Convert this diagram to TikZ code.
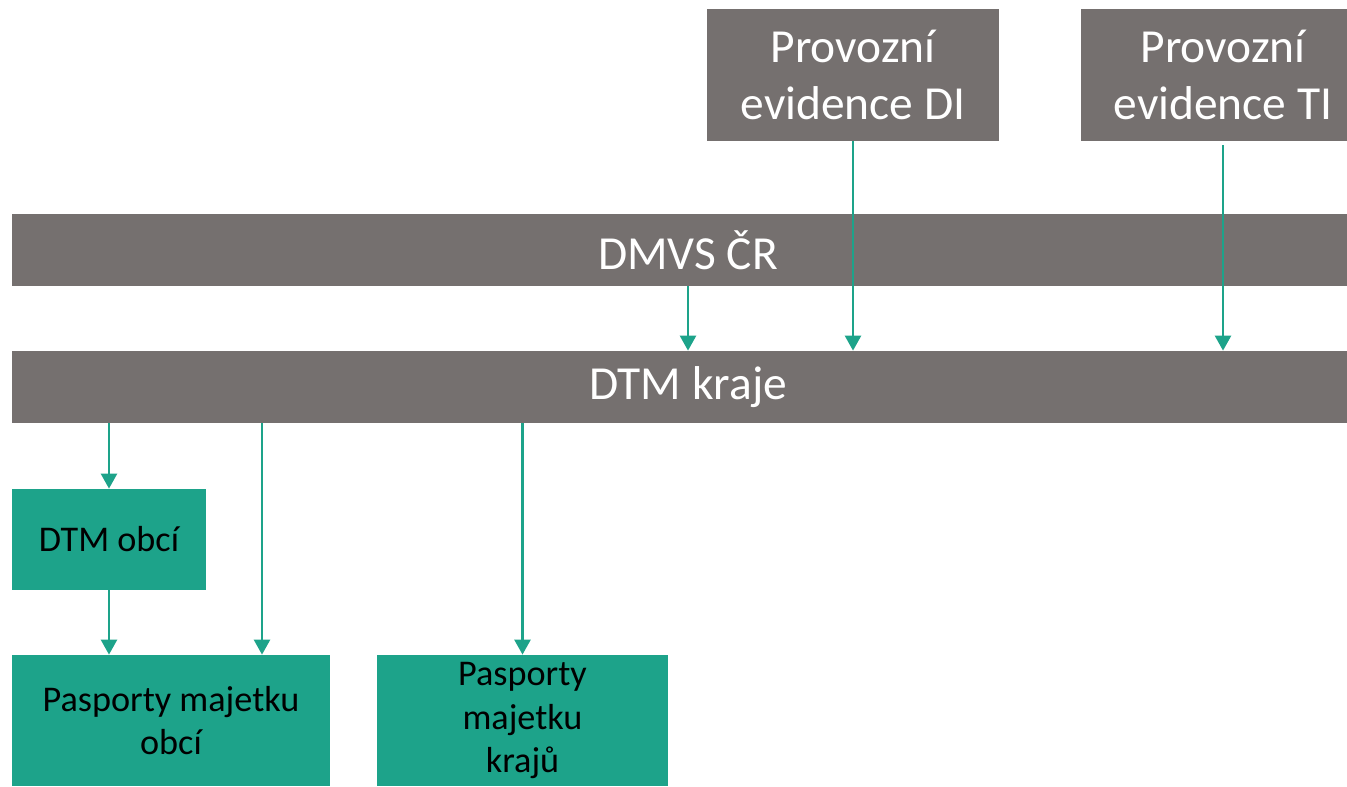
\documentclass[tikz,border=0pt]{standalone}
\usepackage{fontspec}
\setmainfont{Carlito}
\usepackage{xcolor}
\definecolor{SlateGrey}{RGB}{117,112,111}
\definecolor{SeaTeal}{RGB}{29,163,138}
\usepackage{tikz}
\usetikzlibrary{arrows.meta, positioning}

\begin{document}
\begin{tikzpicture}[
		% grey boxes (sources and layers)
		greyBox/.style={
			rectangle,
			fill=SlateGrey,
			text=white,
			align=center,
			inner sep=0pt,
			font=\fontsize{27}{32}\selectfont
		},
		% teal boxes (municipal and regional outputs)
		tealBox/.style={
			rectangle,
			fill=SeaTeal,
			text=black,
			align=center,
			inner sep=0pt,
			font=\fontsize{20.6}{24.6}\selectfont
		},
		% data flow arrows
		flow/.style={
			draw=SeaTeal,
			line width=1.6pt,
			-{Triangle[length=8.5pt, width=9pt]}
		}
		]
		
		\useasboundingbox (0,0) rectangle (26.94,15.72);
		
		% upper sources (TI box and bars run past the right edge)
		\node[greyBox, minimum width=5.84cm, minimum height=2.64cm] (di) at (17.06,14.22) {Provozní\\evidence DI};
		\node[greyBox, minimum width=5.68cm, minimum height=2.64cm] (ti) at (24.46,14.22) {Provozní\\evidence TI};
		
		% wide bars
		\node[greyBox, minimum width=27.04cm, minimum height=1.44cm] (dmvs) at (13.76,10.72) {DMVS ČR};
		\node[greyBox, minimum width=27.04cm, minimum height=1.44cm] (kraje) at (13.76,7.98) {DTM kraje};
		
		% lower boxes
		\node[tealBox, minimum width=3.88cm, minimum height=2.02cm] (obci) at (2.18,4.93) {DTM obcí};
		\node[tealBox, minimum width=6.36cm, minimum height=2.62cm] (pobci) at (3.42,1.31) {Pasporty majetku\\obcí};
		\node[tealBox, minimum width=5.82cm, minimum height=2.62cm] (pkraju) at (10.45,1.31) {Pasporty\\majetku\\krajů};
		
		% arrows into DTM kraje
		\draw[flow] (dmvs.south) -- (kraje.north);
		\draw[flow] (di.south) -- (di.south |- kraje.north);
		\draw[flow, shorten <=0.8mm] (ti.south) -- (ti.south |- kraje.north);
		
		% arrows out of DTM kraje
		\draw[flow] (kraje.south -| obci.north) -- (obci.north);
		\draw[flow] (obci.south) -- (obci.south |- pobci.north);
		\draw[flow] ([xshift=18.2mm]pobci.north |- kraje.south) -- ([xshift=18.2mm]pobci.north);
		\draw[flow] (kraje.south -| pkraju.north) -- (pkraju.north);
		
	\end{tikzpicture}
\end{document}
